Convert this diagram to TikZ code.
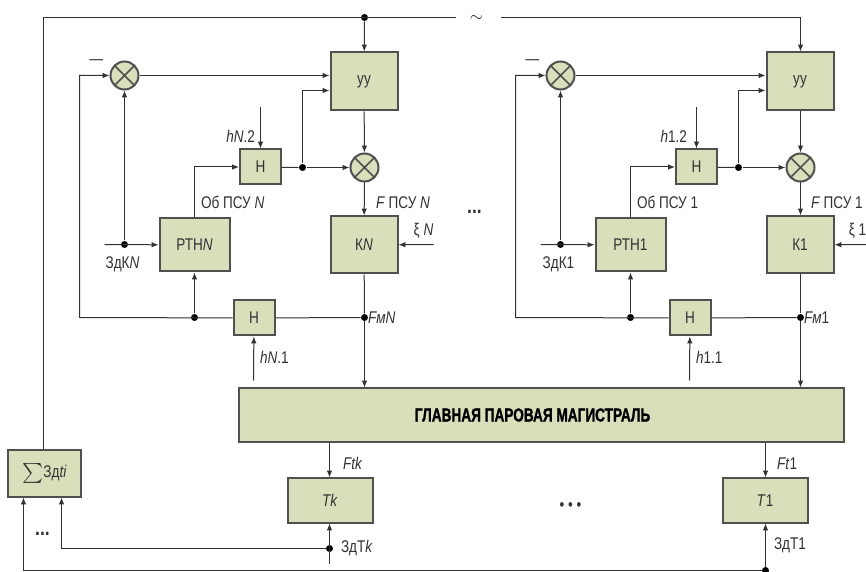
\documentclass[tikz,border=0pt]{standalone}
\usepackage{fontspec}
\setmainfont{Liberation Sans}[FakeStretch=0.8]
\newfontfamily\barfont{Liberation Sans}[FakeStretch=0.72, BoldFeatures={FakeBold=1.2}]
\usetikzlibrary{arrows.meta}
\definecolor{boxfill}{RGB}{217,223,187}
\definecolor{boxline}{RGB}{80,80,80}
\definecolor{wire}{RGB}{50,50,50}

\begin{document}
\begin{tikzpicture}[x=0.5bp,y=-0.5bp,>={Latex[length=3.5pt,width=2.8pt]},line width=0.5bp,color=wire,font=\fontsize{8.5}{10}\selectfont]
    \tikzset{blk/.style={draw=boxline, fill=boxfill, line width=1bp, inner sep=0pt, align=center},
        bigbox/.style={blk, minimum width=33.5bp, minimum height=29bp},
        hbox/.style={blk, minimum width=20.5bp, minimum height=17.5bp},
        summ/.style={circle, draw=boxline, fill=boxfill, line width=1bp, minimum size=14bp, inner sep=0pt,
            path picture={\draw[line width=0.8pt, boxline] (path picture bounding box.south west) -- (path picture bounding box.north east)
                (path picture bounding box.north west) -- (path picture bounding box.south east);}},
        jn/.style={circle, fill=black, inner sep=0pt, minimum size=3.5bp},
        lbl/.style={inner sep=0pt},
        ell/.style={inner sep=0pt, font=\bfseries\fontsize{11}{12}\selectfont}}
    \path[fill=white] (-0.5,-0.5) rectangle (865.5,571.5);
    \useasboundingbox (-0.5,-0.5) rectangle (865.5,571.5);

    % unit N
    \node[bigbox] (yyN) at (363.5,81) {уу};
    \node[summ] (smaN) at (124,75) {};
    \node[summ] (smbN) at (364,167) {};
    \node[hbox] (hN2) at (260,166.5) {Н};
    \node[bigbox, minimum width=35bp, minimum height=26.5bp] (rtnN) at (194,244.5) {РТН\textit{N}};
    \node[bigbox, minimum height=28.5bp] (kN) at (363.5,244.5) {К\textit{N}};
    \node[hbox] (hN1) at (253.5,317.5) {Н};
    \node[jn] (jtop) at (364,17) {};
    \node[jn] (jhN) at (302,167) {};
    \node[jn] (jzN) at (124,244) {};
    \node[jn] (jrN) at (194,317) {};
    \node[jn] (jfN) at (364,317) {};
    \coordinate (fbN) at (79,317);
    \coordinate (h2inN) at (260,107);
    \coordinate (zkinN) at (104,244);
    \coordinate (xiinN) at (433,244);
    \coordinate (h1inN) at (253,380);
    \node[lbl] (mnN) at (96,62) {—};
    \node[lbl, anchor=east] (lh2N) at (255,136) {\textit{hN}.2};
    \node[lbl, anchor=west] (lobN) at (200,202) {Об ПСУ \textit{N}};
    \node[lbl, anchor=west] (lfpN) at (375,202) {\textit{F} ПСУ \textit{N}};
    \node[lbl] (lzkN) at (122,264) {ЗдК\textit{N}};
    \node[lbl] (lxiN) at (423,230) {ξ \textit{N}};
    \node[lbl, anchor=west] (lfmN) at (367,317) {\textit{FмN}};
    \node[lbl, anchor=west] (lh1N) at (259,357) {\textit{hN}.1};

    % unit 1
    \node[bigbox] (yy1) at (799.5,81) {уу};
    \node[summ] (sma1) at (560,75) {};
    \node[summ] (smb1) at (800,167) {};
    \node[hbox] (h12) at (696,166.5) {Н};
    \node[bigbox, minimum width=35bp, minimum height=26.5bp] (rtn1) at (630,244.5) {РТН1};
    \node[bigbox, minimum height=28.5bp] (k1) at (799.5,244.5) {К1};
    \node[hbox] (h11) at (689.5,317.5) {Н};
    \node[jn] (jh1) at (738,167) {};
    \node[jn] (jz1) at (560,244) {};
    \node[jn] (jr1) at (630,317) {};
    \node[jn] (jf1) at (800,317) {};
    \coordinate (fb1) at (515,317);
    \coordinate (h2in1) at (696,107);
    \coordinate (zkin1) at (540,244);
    \coordinate (xiin1) at (866,244);
    \coordinate (h1in1) at (689,380);
    \node[lbl] (mn1) at (532,62) {—};
    \node[lbl, anchor=east] (lh21) at (687,136) {\textit{h}1.2};
    \node[lbl, anchor=west] (lob1) at (636,202) {Об ПСУ 1};
    \node[lbl, anchor=west] (lfp1) at (810,202) {\textit{F} ПСУ 1};
    \node[lbl] (lzk1) at (558,264) {ЗдК1};
    \node[lbl] (lxi1) at (857,230) {ξ 1};
    \node[lbl, anchor=west] (lfm1) at (803,317) {\textit{Fм}1};
    \node[lbl, anchor=west] (lh11) at (695,357) {\textit{h}1.1};

    % main line and turbines
    \node[blk, minimum width=302bp, minimum height=26.5bp, font=\barfont\bfseries\fontsize{9.5}{10}\selectfont, text=black] (bar) at (541,414.5) {\hspace*{-9pt}ГЛАВНАЯ ПАРОВАЯ МАГИСТРАЛЬ};
    \node[blk, minimum width=36bp, minimum height=23bp] (sig) at (44,473) {$\sum$Зд\textit{ti}};
    \node[blk, minimum width=42.5bp, minimum height=22bp] (tk) at (329.5,500) {\textit{Tk}};
    \node[blk, minimum width=42.5bp, minimum height=22bp] (t1) at (764.5,500) {\textit{T}1};
    \node[jn] (jtk) at (329,548) {};
    \node[jn] (jt1) at (765,570) {};
    \coordinate (ztkin) at (329,563);
    \coordinate (brkL) at (455,17);
    \coordinate (brkR) at (500,17);
    \node[lbl] (tld) at (476,18) {$\sim$};
    \node[lbl, anchor=west] (lftk) at (342,463) {\textit{Ftk}};
    \node[lbl, anchor=west] (lft1) at (776,463) {\textit{Ft}1};
    \node[lbl, anchor=west] (lztk) at (340,548) {ЗдТ\textit{k}};
    \node[lbl, anchor=west] (lzt1) at (773,545) {ЗдТ1};
    \node[ell] (dotm) at (474,211) {...};
    \node[ell] (dots) at (42,533) {...};
    \node[lbl] (dotb) at (570,506) {• • •};

    % connections, unit N
    \draw (sig.north -| 43,0) |- (brkL);
    \draw[->] (jtop) -- (yyN);
    \draw[->] (smaN) -- (smaN -| yyN.west);
    \draw[->] (yyN) -- (smbN);
    \draw[->] (smbN) -- (kN);
    \draw[->] (h2inN) -- (hN2);
    \draw (hN2) -- (jhN);
    \draw[->] (jhN) -- (smbN);
    \draw[->] (jhN) |- ([yshift=-4.5bp]yyN.west);
    \draw[->] (rtnN) |- (hN2);
    \draw[->] (zkinN) -- (rtnN);
    \draw[->] (jzN) -- (smaN);
    \draw[->] (xiinN) -- (kN);
    \draw[->] (hN1) -- (fbN) |- (smaN);
    \draw[->] (jrN) -- (rtnN);
    \draw (hN1) -- (jfN);
    \draw[->] (jfN) -- (jfN |- bar.north);
    \draw (kN) -- (jfN);
    \draw[->] (h1inN) -- (hN1);

    % connections, unit 1
    \draw[->] (brkR) -| (yy1.north -| smb1);
    \draw[->] (sma1) -- (sma1 -| yy1.west);
    \draw[->] (yy1.south -| smb1) -- (smb1);
    \draw[->] (smb1) -- (k1.north -| smb1);
    \draw[->] (h2in1) -- (h12);
    \draw (h12) -- (jh1);
    \draw[->] (jh1) -- (smb1);
    \draw[->] (jh1) |- ([yshift=-4.5bp]yy1.west);
    \draw[->] (rtn1) |- (h12);
    \draw[->] (zkin1) -- (rtn1);
    \draw[->] (jz1) -- (sma1);
    \draw[->] (xiin1) -- (k1);
    \draw[->] (h11) -- (fb1) |- (sma1);
    \draw[->] (jr1) -- (rtn1);
    \draw (h11) -- (jf1);
    \draw (k1.south -| jf1) -- (jf1);
    \draw[->] (jf1) -- (jf1 |- bar.north);
    \draw[->] (h1in1) -- (h11);

    % turbines
    \draw[->] (bar.south -| jtk) -- (tk.north -| jtk);
    \draw[->] (bar.south -| jt1) -- (t1.north -| jt1);
    \draw[->] (ztkin) -- (tk.south -| jtk);
    \draw[->] (jtk) -| ([xshift=8.5bp]sig.south);
    \draw[->] (jt1) -- (t1.south -| jt1);
    \draw[->] (jt1) -| ([xshift=-10.5bp]sig.south);
\end{tikzpicture}
\end{document}
